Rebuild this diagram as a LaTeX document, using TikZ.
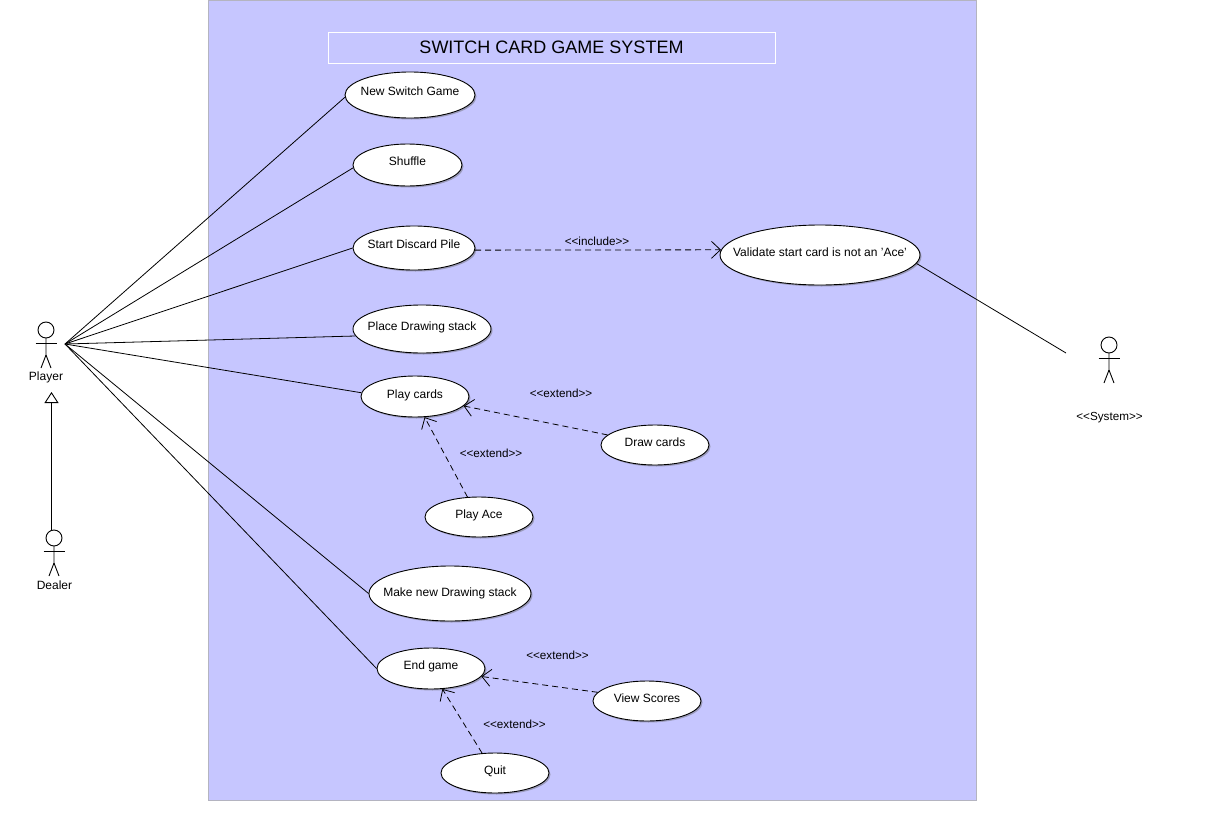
\documentclass[tikz,border=0pt]{standalone}
\usepackage{fontspec}
\setmainfont{Liberation Sans}
\usetikzlibrary{shapes.geometric,arrows.meta,shadows}
\definecolor{sysfill}{HTML}{C6C6FF}
\definecolor{sysline}{HTML}{B4B4C0}
\tikzset{
  x=1pt,y=-1pt,
  usecase/.style={ellipse,draw=black,fill=white,line width=0.9pt,inner sep=0pt,
    font=\fontsize{12}{14}\selectfont,
    drop shadow={shadow xshift=1.5pt,shadow yshift=-1.5pt,opacity=.45,fill=black!60}},
  stereo/.style={font=\fontsize{11.7}{13}\selectfont,inner sep=0pt},
  actorlabel/.style={font=\fontsize{12}{14}\selectfont,inner sep=0pt},
  assoc/.style={draw=black,line width=0.8pt},
  dep/.style={draw=black,line width=0.8pt,dash pattern=on 6pt off 4pt,
    -{Straight Barb[length=9pt,width=17pt,line width=0.8pt]}},
  gen/.style={draw=black,line width=0.9pt,-{Triangle[open,length=11pt,width=14pt,line width=0.9pt]}},
  figure/.style={draw=black,line width=0.9pt}
}
\newcommand{\stickman}[2]{%
  \begin{scope}[shift={(#1,#2)}]
    \draw[figure] (0,-13) circle[radius=8];
    \draw[figure] (-10.5,0) -- (10.5,0);
    \draw[figure] (0,-5) -- (0,12) -- (-5,25);
    \draw[figure] (0,12) -- (5,25);
  \end{scope}}
\newcommand{\uctext}[2]{\raisebox{#1}[0pt][0pt]{\makebox[0pt]{#2}}}
\begin{document}
\begin{tikzpicture}
\useasboundingbox (0,0) rectangle (1224,838);
\fill[white] (0,0) rectangle (1224,838);
\draw[fill=sysfill,draw=sysline,line width=1pt] (208.5,0.5) rectangle (976,800);
\node[draw=white,line width=1pt,minimum width=447pt,minimum height=31pt,inner sep=0pt,
  font=\fontsize{18}{20}\selectfont] (title) at (551.5,47.5) {SWITCH CARD GAME SYSTEM};

\node[usecase,minimum width=130pt,minimum height=46pt] (newgame) at (410,95) {\uctext{-0.3pt}{New Switch Game}};
\node[usecase,minimum width=109pt,minimum height=42pt] (shuffle) at (407.5,165) {\uctext{-0.3pt}{Shuffle}};
\node[usecase,minimum width=122pt,minimum height=44pt] (discard) at (414,248) {\uctext{0pt}{Start Discard Pile}};
\node[usecase,minimum width=138pt,minimum height=48pt] (place) at (422,329) {\uctext{-1pt}{Place Drawing stack}};
\node[usecase,minimum width=108pt,minimum height=41pt] (play) at (415,396.5) {\uctext{-2pt}{Play cards}};
\node[usecase,minimum width=108pt,minimum height=40pt] (draw) at (655,445) {\uctext{-1pt}{Draw cards}};
\node[usecase,minimum width=108pt,minimum height=40pt] (ace) at (479,517) {\uctext{-1pt}{Play Ace}};
\node[usecase,minimum width=162pt,minimum height=55pt] (make) at (450,593.5) {\uctext{-3pt}{Make new Drawing stack}};
\node[usecase,minimum width=108pt,minimum height=41pt] (endgame) at (431,668.5) {\uctext{-1pt}{End game}};
\node[usecase,minimum width=108pt,minimum height=40pt] (scores) at (647,701) {\uctext{-1pt}{View Scores}};
\node[usecase,minimum width=108pt,minimum height=40pt] (quit) at (495,773) {\uctext{-1pt}{Quit}};
\node[usecase,minimum width=200pt,minimum height=60pt] (validate) at (820,255) {\uctext{-1pt}{Validate start card is not an 'Ace'}};

\stickman{46}{343}
\stickman{54}{551}
\stickman{1109}{358}
\node[actorlabel] (player) at (46,377) {Player};
\node[actorlabel] (dealer) at (54.5,585) {Dealer};
\node[stereo] (system) at (1109.5,418) {<{}<System>{}>};

\coordinate (hub) at (65,344);
\coordinate (sysend) at (1066,353);
\coordinate (gentop) at (51.5,392);
\coordinate (genfoot) at (51.5,530);

\draw[assoc] (hub) -- (newgame.182);
\draw[assoc] (hub) -- (shuffle.183);
\draw[assoc] (hub) -- (discard.180);
\draw[assoc] (hub) -- (place.186);
\draw[assoc] (hub) -- (play.176);
\draw[assoc] (hub) -- (make.180);
\draw[assoc] (hub) -- (endgame.180);
\draw[assoc] (validate.-5) -- (sysend);
\draw[gen] (genfoot) -- (gentop);

\draw[dep] (discard.-2) -- (validate.177);
\draw[dep] (draw.168) -- (play.-11);
\draw[dep] (ace.120) -- (play.-65);
\draw[dep] (scores.170) -- (endgame.-9.5);
\draw[dep] (quit.123) -- (endgame.-61);

\node[stereo] (lincl) at (597,241) {<{}<include>{}>};
\node[stereo] (lext1) at (561,393) {<{}<extend>{}>};
\node[stereo] (lext2) at (491,453) {<{}<extend>{}>};
\node[stereo] (lext3) at (557.5,655) {<{}<extend>{}>};
\node[stereo] (lext4) at (514.5,724) {<{}<extend>{}>};
\end{tikzpicture}
\end{document}
